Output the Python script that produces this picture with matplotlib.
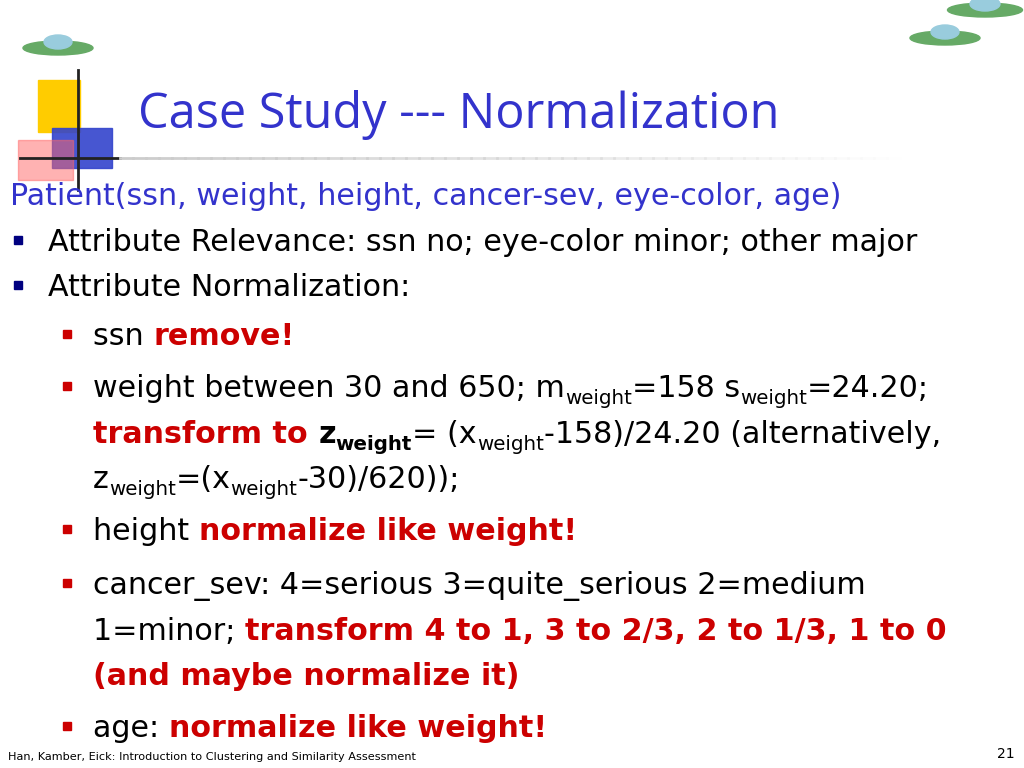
"""
Slide: Case Study --- Normalization
"""
import matplotlib
matplotlib.use("Agg")
import matplotlib.pyplot as plt
from matplotlib.patches import Rectangle, Ellipse

BLUE = "#3333CC"
RED = "#CC0000"
BLACK = "#000000"

title = "Case Study --- Normalization"
header = "Patient(ssn, weight, height, cancer-sev, eye-color, age)"
footer = "Han, Kamber, Eick: Introduction to Clustering and Similarity Assessment"
page_no = "21"

# each line: (bullet level, list of runs); run = (text, colour, bold, subscript)
lines = [
    (1, [("Attribute Relevance: ssn no; eye-color minor; other major", BLACK, False, False)]),
    (1, [("Attribute Normalization:", BLACK, False, False)]),
    (2, [("ssn ", BLACK, False, False), ("remove!", RED, True, False)]),
    (2, [("weight between 30 and 650; m", BLACK, False, False), ("weight", BLACK, False, True),
         ("=158 s", BLACK, False, False), ("weight", BLACK, False, True), ("=24.20;", BLACK, False, False)]),
    (0, [("transform to ", RED, True, False), ("z", BLACK, True, False), ("weight", BLACK, True, True),
         ("= (x", BLACK, False, False), ("weight", BLACK, False, True),
         ("-158)/24.20 (alternatively,", BLACK, False, False)]),
    (0, [("z", BLACK, False, False), ("weight", BLACK, False, True), ("=(x", BLACK, False, False),
         ("weight", BLACK, False, True), ("-30)/620));", BLACK, False, False)]),
    (2, [("height ", BLACK, False, False), ("normalize like weight!", RED, True, False)]),
    (2, [("cancer_sev: 4=serious 3=quite_serious 2=medium", BLACK, False, False)]),
    (0, [("1=minor; ", BLACK, False, False), ("transform 4 to 1, 3 to 2/3, 2 to 1/3, 1 to 0", RED, True, False)]),
    (0, [("(and maybe normalize it)", RED, True, False)]),
    (2, [("age: ", BLACK, False, False), ("normalize like weight!", RED, True, False)]),
]
baselines = [251, 296, 345, 397, 443, 488, 540, 594, 640, 685, 737]

FONT = "DejaVu Sans"
BODY = 21.7

fig = plt.figure(figsize=(10.24, 7.68), dpi=100)
ax = fig.add_axes([0, 0, 1, 1])
ax.set_xlim(0, 1024)
ax.set_ylim(768, 0)
ax.axis("off")
renderer = fig.canvas.get_renderer()


def draw_runs(x, y, runs):
    for text, color, bold, sub in runs:
        size = BODY * 0.66 if sub else BODY
        yy = y + 7 if sub else y
        t = ax.text(x, yy, text, color=color, fontsize=size, family=FONT,
                    fontweight="bold" if bold else "normal", va="baseline", ha="left")
        bb = t.get_window_extent(renderer)
        x += bb.width


# decorations: squares and cross lines at top left
ax.add_patch(Rectangle((38, 80), 42, 52, color="#FFCC00"))
ax.add_patch(Rectangle((52, 128), 60, 40, color="#3344CC", alpha=0.9))
ax.add_patch(Rectangle((18, 140), 55, 40, color="#FF6666", alpha=0.5))
ax.plot([78, 78], [70, 190], color="#222222", lw=2)
ax.plot([20, 120], [158, 158], color="#222222", lw=2)
for i in range(60):
    ax.plot([120 + i * 13, 133 + i * 13], [158, 158], color="#CCCCCC",
            alpha=max(0, 1 - i / 60), lw=2)

# little flying saucers
for cx, cy, w in [(58, 48, 70), (985, 10, 75), (945, 38, 70)]:
    ax.add_patch(Ellipse((cx, cy), w, 14, color="#66AA66"))
    ax.add_patch(Ellipse((cx, cy - 6), w * 0.4, 14, color="#99CCDD"))

ax.text(138, 128, title, color=BLUE, fontsize=35, family="Open Sans", va="baseline")
ax.text(10, 205, header, color=BLUE, fontsize=BODY, family=FONT, va="baseline")

for (level, runs), y in zip(lines, baselines):
    if level == 1:
        ax.add_patch(Rectangle((14, y - 15), 8, 8, color="#000080"))
        draw_runs(48, y, runs)
    else:
        if level == 2:
            ax.add_patch(Rectangle((63, y - 15), 8, 8, color="#CC0000"))
        draw_runs(93, y, runs)

ax.text(8, 760, footer, fontsize=8.1, family=FONT, va="baseline")
ax.text(1015, 758, page_no, fontsize=10, family=FONT, va="baseline", ha="right")

fig.savefig("out.png", dpi=100)
plt.close(fig)
